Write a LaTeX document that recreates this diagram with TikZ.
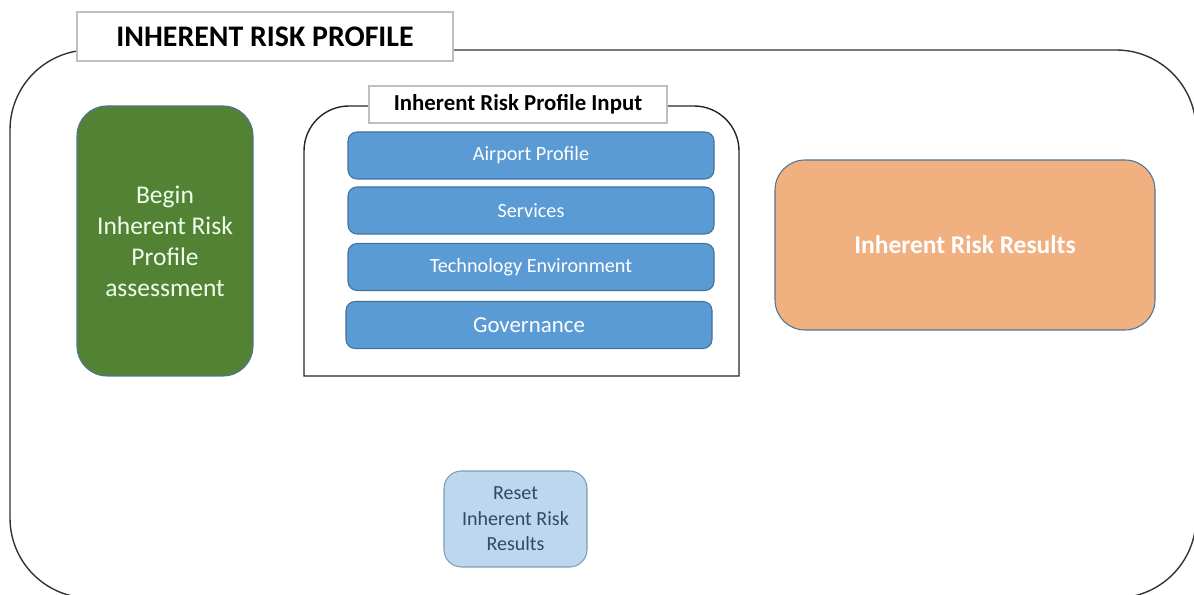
\documentclass[tikz,border=0pt]{standalone}
\usepackage{fontspec}
\setmainfont{Carlito}
\usepackage{tikz}
\usetikzlibrary{positioning}
\definecolor{barblue}{RGB}{91,155,213}
\definecolor{edgeblue}{RGB}{65,113,156}
\definecolor{startgreen}{RGB}{84,130,53}
\definecolor{resorange}{RGB}{240,176,128}
\definecolor{resetblue}{RGB}{189,215,238}
\definecolor{resettext}{RGB}{50,72,105}

\begin{document}
\begin{tikzpicture}[line width=0.6pt,
  tag/.style={draw=black!25, fill=white, inner sep=0pt, font=\bfseries},
  bar/.style={draw=edgeblue, fill=barblue, rounded corners=0.18cm, minimum width=7.32cm, minimum height=0.94cm, text=white, font=\fontsize{11.5}{14}\selectfont},
  tile/.style={draw=edgeblue!80!gray, rounded corners=0.6cm, align=center}]
\useasboundingbox (0,0) rectangle (23.88,11.9);
\begin{scope}
\clip (0,0) rectangle (23.88,11.9);
% outer frame, runs off the page on the right and at the bottom
\draw[black!80, line width=0.8pt, rounded corners=1.6cm] (0.2,-0.06) rectangle (23.92,10.9);
\end{scope}
\node[tag, minimum width=7.52cm, minimum height=0.98cm, font=\fontsize{17}{20}\selectfont\bfseries] (irp) at (5.3,11.17) {INHERENT RISK PROFILE};

% input group: round top, square bottom
\draw[black!85, line width=0.8pt] (6.08,4.38) -- (6.08,8.88) arc[start angle=180, end angle=90, radius=0.9]
  -- (13.88,9.78) arc[start angle=90, end angle=0, radius=0.9] -- (14.78,4.38) -- cycle;
\node[tag, minimum width=5.96cm, minimum height=0.74cm, font=\fontsize{13}{15}\selectfont\bfseries] (inp) at (10.36,9.81) {Inherent Risk Profile Input};
\node[bar] (ap)   at (10.62,8.79) {Airport Profile};
\node[bar] (srv)  at (10.62,7.69) {Services};
\node[bar] (tech) at (10.62,6.56) {Technology Environment};
\node[bar, font=\fontsize{13}{15}\selectfont] (gov) at (10.58,5.40) {Governance};

\node[tile, fill=startgreen, text=green!8!white, minimum width=3.52cm, minimum height=5.4cm,
  font=\fontsize{14.5}{17.6}\selectfont] (begin) at (3.30,7.08) {Begin\\Inherent Risk\\Profile\\assessment};
\node[tile, fill=resorange, text=white, minimum width=7.6cm, minimum height=3.4cm,
  font=\fontsize{14.5}{17}\selectfont\bfseries] (res) at (19.3,7.0) {Inherent Risk Results};
\node[tile, rounded corners=0.35cm, draw=edgeblue!70, fill=resetblue, text=resettext, minimum width=2.86cm, minimum height=1.92cm,
  font=\fontsize{11.4}{14.5}\selectfont] (reset) at (10.31,1.52) {Reset\\Inherent Risk\\Results};
\end{tikzpicture}
\end{document}
